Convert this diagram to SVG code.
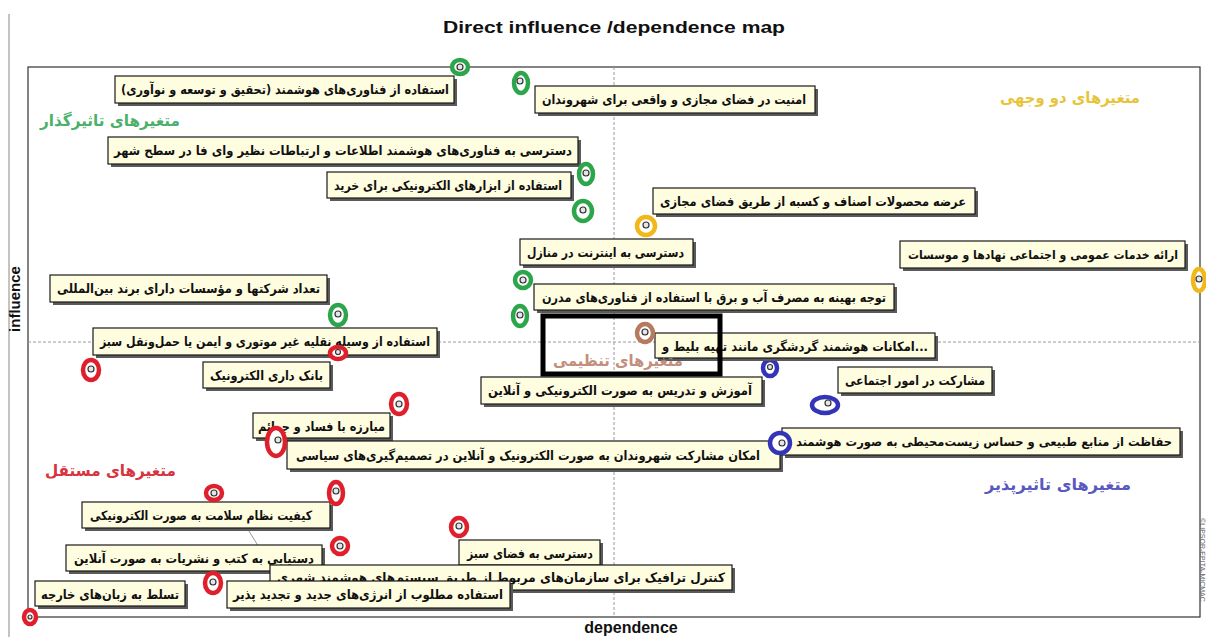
<svg xmlns="http://www.w3.org/2000/svg" width="1206" height="637" viewBox="0 0 1206 637">
<style>
.sh{fill:#5a5a5a}
.lb{fill:#fffde0;stroke:#1a1a1a;stroke-width:1.2}
.lt{font-family:"DejaVu Sans",sans-serif;font-size:13px;font-weight:bold;fill:#111}
.sm{font-size:12px}
.q{font-family:"DejaVu Sans",sans-serif;font-size:16px;font-weight:bold}
.ax{font-family:"Liberation Sans",Arial,sans-serif;font-weight:bold;fill:#111}
.dot{fill:#e6e6e6;stroke:#333;stroke-width:1.2}
.g{fill:#fff;stroke:#2ca54b;stroke-width:4.5}
.y{fill:#fff;stroke:#f0b81a;stroke-width:4.5}
.b{fill:#fff;stroke:#b77a5e;stroke-width:4.5}
.u{fill:#fff;stroke:#3434b8;stroke-width:4.5}
.r{fill:#fff;stroke:#e01f2d;stroke-width:4.5}
.dash{stroke:#9a9a9a;stroke-width:1;stroke-dasharray:3 2;fill:none}
</style>
<rect x="0" y="0" width="1206" height="637" fill="#fff"/>
<line x1="9" y1="14" x2="9" y2="637" stroke="#888" stroke-width="1"/>
<text class="ax" x="614" y="33" font-size="17" text-anchor="middle" textLength="342" lengthAdjust="spacingAndGlyphs">Direct influence /dependence map</text>
<rect x="28" y="67" width="1172" height="550" fill="#fff" stroke="#333" stroke-width="1.2"/>
<line class="dash" x1="614" y1="67" x2="614" y2="617"/>
<line class="dash" x1="28" y1="342" x2="1200" y2="342"/>
<text class="ax" x="0" y="0" font-size="15" text-anchor="middle" transform="translate(20 299) rotate(-90)">influence</text>
<text class="ax" x="631" y="633" font-size="16" text-anchor="middle">dependence</text>
<text x="0" y="0" font-family="'Liberation Sans',sans-serif" font-size="7" fill="#666" text-anchor="middle" transform="translate(1200 560) rotate(90)">©LIPSOR-EPITA-MICMAC</text>

<g id="connectors">
<line x1="247" y1="528" x2="262" y2="552" stroke="#999" stroke-width="1"/>
</g>

<g id="n-A"><rect class="sh" x="118" y="79" width="339" height="27"/><rect class="lb" x="115" y="76" width="339" height="27"/><text class="lt" x="449" y="94" text-anchor="end" textLength="328" lengthAdjust="spacingAndGlyphs">استفاده از فناوری‌های هوشمند (تحقیق و توسعه و نوآوری)</text><ellipse class="g" cx="460" cy="67" rx="8" ry="7"/><circle class="dot" cx="460" cy="67" r="3"/></g>
<g id="n-B"><rect class="sh" x="538" y="89" width="280" height="27"/><rect class="lb" x="535" y="86" width="280" height="27"/><text class="lt" x="806" y="104" text-anchor="end" textLength="264" lengthAdjust="spacingAndGlyphs">امنیت در فضای مجازی و واقعی برای شهروندان</text><ellipse class="g" cx="521" cy="83" rx="7" ry="10"/><circle class="dot" cx="520" cy="81" r="3"/></g>
<g id="n-C"><rect class="sh" x="111" y="140" width="470" height="27"/><rect class="lb" x="108" y="137" width="470" height="27"/><text class="lt" x="572" y="155" text-anchor="end" textLength="458" lengthAdjust="spacingAndGlyphs">دسترسی به فناوری‌های هوشمند اطلاعات و ارتباطات نظیر وای فا در سطح شهر</text><ellipse class="g" cx="586" cy="174" rx="7" ry="10"/><circle class="dot" cx="586" cy="173" r="3"/></g>
<g id="n-D"><rect class="sh" x="330" y="175" width="244" height="26"/><rect class="lb" x="327" y="172" width="244" height="26"/><text class="lt" x="562" y="190" text-anchor="end" textLength="228" lengthAdjust="spacingAndGlyphs">استفاده از ابزارهای الکترونیکی برای خرید</text><ellipse class="g" cx="583" cy="211" rx="9" ry="10"/><circle class="dot" cx="583" cy="210" r="3"/></g>
<g id="n-E"><rect class="sh" x="656" y="191" width="322" height="26"/><rect class="lb" x="653" y="188" width="322" height="26"/><text class="lt" x="966" y="206" text-anchor="end" textLength="306" lengthAdjust="spacingAndGlyphs">عرضه محصولات اصناف و کسبه از طریق فضای مجازی</text><ellipse class="y" cx="646" cy="226" rx="9" ry="9"/><circle class="dot" cx="646" cy="225" r="3"/></g>
<g id="n-F"><rect class="sh" x="523" y="242" width="173" height="26"/><rect class="lb" x="520" y="239" width="173" height="26"/><text class="lt" x="684" y="257" text-anchor="end" textLength="157" lengthAdjust="spacingAndGlyphs">دسترسی به اینترنت در منازل</text><ellipse class="g" cx="523" cy="280" rx="8" ry="8"/><circle class="dot" cx="523" cy="280" r="3"/></g>
<g id="n-G"><rect class="sh" x="903" y="244" width="285" height="27"/><rect class="lb" x="900" y="241" width="285" height="27"/><text class="lt sm" x="1178" y="259" text-anchor="end" textLength="270" lengthAdjust="spacingAndGlyphs">ارائه خدمات عمومی و اجتماعی نهادها و موسسات</text><ellipse class="y" cx="1199" cy="280" rx="6" ry="11"/><circle class="dot" cx="1199" cy="279" r="3"/></g>
<g id="n-H"><rect class="sh" x="53" y="278" width="277" height="27"/><rect class="lb" x="50" y="275" width="277" height="27"/><text class="lt" x="320" y="293" text-anchor="end" textLength="263" lengthAdjust="spacingAndGlyphs">تعداد شرکتها و مؤسسات دارای برند بین‌المللی</text><ellipse class="g" cx="338" cy="315" rx="8" ry="10"/><circle class="dot" cx="338" cy="314" r="3"/></g>
<g id="n-I"><rect class="sh" x="537" y="287" width="360" height="26"/><rect class="lb" x="534" y="284" width="360" height="26"/><text class="lt" x="886" y="302" text-anchor="end" textLength="344" lengthAdjust="spacingAndGlyphs">توجه بهینه به مصرف آب و برق با استفاده از فناوری‌های  مدرن</text><ellipse class="g" cx="520" cy="316" rx="7" ry="10"/><circle class="dot" cx="520" cy="315" r="3"/></g>
<g id="n-K"><rect class="sh" x="96" y="331" width="344" height="27"/><rect class="lb" x="93" y="328" width="344" height="27"/><text class="lt" x="430" y="346" text-anchor="end" textLength="330" lengthAdjust="spacingAndGlyphs">استفاده از وسیله نقلیه غیر موتوری و ایمن یا حمل‌ونقل سبز</text><ellipse class="r" cx="338" cy="353" rx="8" ry="6"/><circle class="dot" cx="338" cy="352" r="2.5"/></g>
<g id="n-L"><rect class="sh" x="206" y="365" width="127" height="26"/><rect class="lb" x="203" y="362" width="127" height="26"/><text class="lt" x="323" y="380" text-anchor="end" textLength="113" lengthAdjust="spacingAndGlyphs">بانک داری الکترونیک</text><ellipse class="r" cx="91" cy="370" rx="8" ry="10"/><circle class="dot" cx="91" cy="369" r="3"/></g>
<g id="n-N"><rect class="sh" x="484" y="380" width="281" height="27"/><rect class="lb" x="481" y="377" width="281" height="27"/><text class="lt" x="752" y="395" text-anchor="end" textLength="264" lengthAdjust="spacingAndGlyphs">آموزش و تدریس به صورت الکترونیکی و آنلاین</text><ellipse class="u" cx="770" cy="368" rx="7" ry="8"/><circle class="dot" cx="770" cy="367" r="2.5"/></g>
<g id="n-M"><rect class="sh" x="841" y="370" width="154" height="26"/><rect class="lb" x="838" y="367" width="154" height="26"/><text class="lt" x="985" y="385" text-anchor="end" textLength="140" lengthAdjust="spacingAndGlyphs">مشارکت در امور اجتماعی</text><ellipse class="u" cx="825" cy="405" rx="13" ry="8"/><circle class="dot" cx="828" cy="403" r="3"/></g>
<g id="n-O"><rect class="sh" x="256" y="416" width="137" height="25"/><rect class="lb" x="253" y="413" width="137" height="25"/><text class="lt" x="385" y="431" text-anchor="end" textLength="127" lengthAdjust="spacingAndGlyphs">مبارزه با فساد و جرائم</text><ellipse class="r" cx="399" cy="404" rx="8" ry="10"/><circle class="dot" cx="399" cy="404" r="3"/></g>
<g id="n-Q"><rect class="sh" x="290" y="444" width="493" height="28"/><rect class="lb" x="287" y="441" width="493" height="28"/><text class="lt" x="760" y="460" text-anchor="end" textLength="464" lengthAdjust="spacingAndGlyphs">امکان مشارکت شهروندان به صورت الکترونیک و آنلاین در تصمیم‌گیری‌های  سیاسی</text><ellipse class="r" cx="276" cy="442" rx="9" ry="14"/><circle class="dot" cx="278" cy="440" r="3"/></g>
<g id="n-P"><rect class="sh" x="785" y="431" width="398" height="27"/><rect class="lb" x="782" y="428" width="398" height="27"/><text class="lt sm" x="1172" y="446" text-anchor="end" textLength="376" lengthAdjust="spacingAndGlyphs">حفاظت از منابع طبیعی و حساس زیست‌محیطی به صورت هوشمند</text><ellipse class="u" cx="780" cy="443" rx="10" ry="10"/><circle class="dot" cx="782" cy="443" r="3"/></g>
<g id="n-R"><rect class="sh" x="85" y="505" width="248" height="26"/><rect class="lb" x="82" y="502" width="248" height="26"/><text class="lt" x="312" y="520" text-anchor="end" textLength="222" lengthAdjust="spacingAndGlyphs">کیفیت نظام سلامت به صورت الکترونیکی</text><ellipse class="r" cx="214" cy="493" rx="8" ry="7"/><circle class="dot" cx="214" cy="493" r="3"/></g>
<g id="n-T"><rect class="sh" x="69" y="548" width="256" height="26"/><rect class="lb" x="66" y="545" width="256" height="26"/><text class="lt" x="314" y="563" text-anchor="end" textLength="240" lengthAdjust="spacingAndGlyphs">دستیابی به کتب و نشریات به صورت آنلاین</text><ellipse class="r" cx="336" cy="493" rx="7" ry="11"/><circle class="dot" cx="336" cy="491" r="3"/></g>
<g id="n-S"><rect class="sh" x="462" y="543" width="141" height="25"/><rect class="lb" x="459" y="540" width="141" height="25"/><text class="lt" x="593" y="558" text-anchor="end" textLength="126" lengthAdjust="spacingAndGlyphs">دسترسی به فضای سبز</text><ellipse class="r" cx="459" cy="527" rx="8" ry="9"/><circle class="dot" cx="459" cy="526" r="3"/></g>
<g id="n-U"><rect class="sh" x="273" y="568" width="462" height="25"/><rect class="lb" x="270" y="565" width="462" height="25"/><text class="lt" x="725" y="582" text-anchor="end" textLength="448" lengthAdjust="spacingAndGlyphs">کنترل ترافیک برای سازمان‌های مربوط از طریق سیستم‌های هوشمند شهری</text><ellipse class="r" cx="340" cy="546" rx="8" ry="8"/><circle class="dot" cx="340" cy="546" r="3"/></g>
<g id="n-V"><rect class="sh" x="38" y="584" width="150" height="25"/><rect class="lb" x="35" y="581" width="150" height="25"/><text class="lt" x="179" y="599" text-anchor="end" textLength="138" lengthAdjust="spacingAndGlyphs">تسلط به زبان‌های  خارجه</text><ellipse class="r" cx="30" cy="617" rx="6" ry="7"/><circle class="dot" cx="30" cy="617" r="2"/></g>
<g id="n-W"><rect class="sh" x="230" y="584" width="283" height="27"/><rect class="lb" x="227" y="581" width="283" height="27"/><text class="lt" x="503" y="599" text-anchor="end" textLength="270" lengthAdjust="spacingAndGlyphs">استفاده مطلوب از انرژی‌های جدید  و تجدید پذیر</text><ellipse class="r" cx="213" cy="583" rx="8" ry="10"/><circle class="dot" cx="213" cy="582" r="3"/></g>
<g id="n-J"><rect class="sh" x="658" y="336" width="280" height="25"/><rect class="lb" x="655" y="333" width="280" height="25"/><text class="lt" x="928" y="351" text-anchor="end" textLength="266" lengthAdjust="spacingAndGlyphs">امکانات هوشمند  گردشگری مانند تهیه بلیط و...</text><ellipse class="b" cx="645" cy="333" rx="8" ry="9"/><circle class="dot" cx="645" cy="332" r="3"/></g>

<g id="quadrants">
<text class="q" x="180" y="126" fill="#4cb06a" text-anchor="end" textLength="140" lengthAdjust="spacingAndGlyphs">متغیرهای تاثیرگذار</text>
<text class="q" x="1140" y="103" fill="#e8c43a" text-anchor="end" textLength="140" lengthAdjust="spacingAndGlyphs">متغیرهای دو وجهی</text>
<text class="q" x="683" y="366" fill="#c48e7c" text-anchor="end" textLength="130" lengthAdjust="spacingAndGlyphs">متغیرهای تنظیمی</text>
<text class="q" x="176" y="476" fill="#d8343f" text-anchor="end" textLength="131" lengthAdjust="spacingAndGlyphs">متغیرهای مستقل</text>
<text class="q" x="1131" y="490" fill="#5858c0" text-anchor="end" textLength="146" lengthAdjust="spacingAndGlyphs">متغیرهای تاثیرپذیر</text>
</g>
<rect id="highlight" x="543" y="316" width="177" height="58" fill="none" stroke="#000" stroke-width="5"/>
</svg>
